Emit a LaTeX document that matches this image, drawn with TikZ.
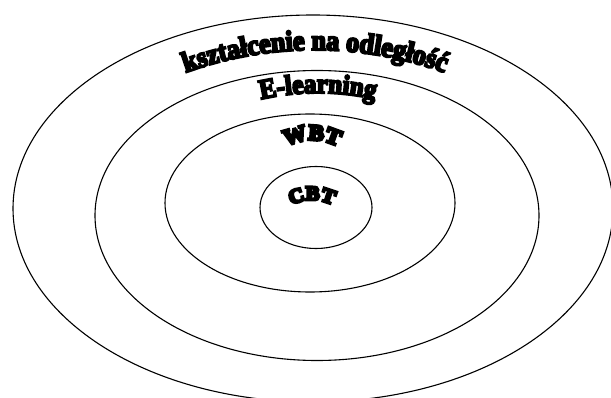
\documentclass[tikz,border=0pt]{standalone}
\usepackage{fontspec}
\usetikzlibrary{shapes.geometric,decorations.text}
\newfontfamily\wafont[FakeBold=7,FakeStretch=0.9]{Liberation Serif Bold}
\newfontfamily\wafontw[FakeBold=14,FakeStretch=1.05]{Liberation Serif Bold}
\tikzset{
  ring/.style={draw, ellipse, line width=1.1pt, inner sep=0pt, outer sep=0pt},
  arclabel/.style={decorate, decoration={text along path, text align=center, text={#1}}}
}
\begin{document}
\begin{tikzpicture}[x=1pt,y=1pt]
\useasboundingbox (0,0) rectangle (611,397);
\clip (0,0) rectangle (611,397);
\fill[white] (0,0) rectangle (611,397);
% rings
\node[ring, minimum width=600pt, minimum height=387pt] (outer) at (313,188.5) {};
\node[ring, minimum width=444pt, minimum height=290pt] (elearn) at (317,181.5) {};
\node[ring, minimum width=290pt, minimum height=178pt] (wbt) at (310,194) {};
\node[ring, minimum width=112pt, minimum height=82pt] (cbt) at (316,189.5) {};
% arched labels
\path[arclabel={|\wafont\fontsize{29}{29}\selectfont|kształcenie na odległość}]
  (315,-33) ++(115:380) arc[start angle=115, end angle=65, radius=380];
\path[arclabel={|\wafont\fontsize{28}{28}\selectfont|E-learning}]
  (318,47) ++(125:257) arc[start angle=125, end angle=55, radius=257];
\path[arclabel={|\wafontw\fontsize{22}{22}\selectfont|WBT}]
  (312,202) ++(165:55) arc[start angle=165, end angle=15, radius=55];
\path[arclabel={|\wafontw\fontsize{20}{20}\selectfont|CBT}]
  (312,152) ++(165:45) arc[start angle=165, end angle=15, radius=45];
\end{tikzpicture}
\end{document}
